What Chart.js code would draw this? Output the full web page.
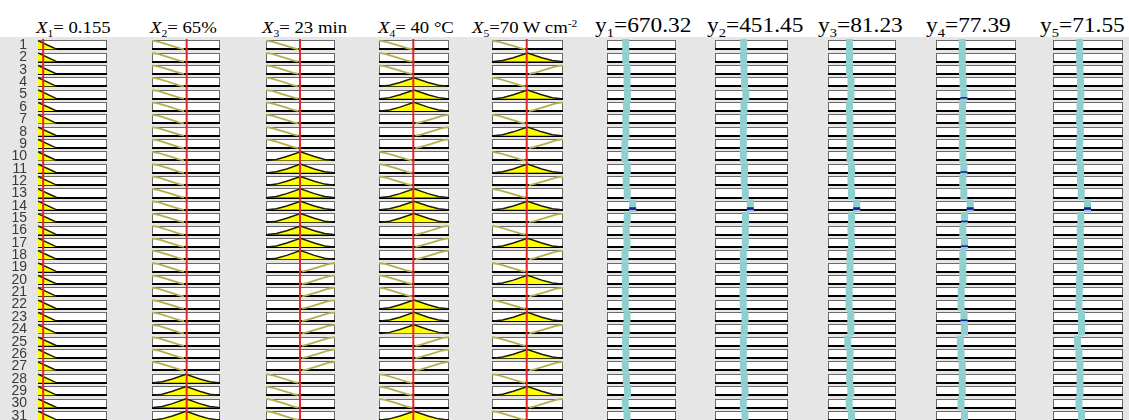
<!DOCTYPE html>
<html>
<head>
<meta charset="utf-8">
<script src="https://cdn.jsdelivr.net/npm/chart.js@4.4.1/dist/chart.umd.min.js"></script>
<style>
html, body { margin: 0; padding: 0; width: 1129px; height: 420px; overflow: hidden; background: #fff; }
#bg { position: absolute; left: 0; top: 37px; width: 1129px; height: 400px; background: #e6e6e6; }
canvas { position: absolute; }
.hd { position: absolute; white-space: nowrap; color: #000; font-family: 'Liberation Serif', serif; transform-origin: 0 0; }
.hd sub, .hd sup { font-size: 0.62em; line-height: 0; }
.hx { font-size: 16px; line-height: 16px; top: 20px; transform: scaleX(1.17); }
.hy { font-size: 20px; line-height: 20px; top: 15px; transform: scaleX(1.17); }
</style>
</head>
<body>
<div id="bg"></div>
<div class="hd hx" style="left:36px"><i>X</i><sub>1</sub>= 0.155</div>
<div class="hd hx" style="left:150px"><i>X</i><sub>2</sub>= 65%</div>
<div class="hd hx" style="left:262px"><i>X</i><sub>3</sub>= 23 min</div>
<div class="hd hx" style="left:378px"><i>X</i><sub>4</sub>= 40 °C</div>
<div class="hd hx" style="left:472px"><i>X</i><sub>5</sub>=70 W cm<sup>-2</sup></div>
<div class="hd hy" style="left:595px">y<sub>1</sub>=670.32</div>
<div class="hd hy" style="left:707px">y<sub>2</sub>=451.45</div>
<div class="hd hy" style="left:818px">y<sub>3</sub>=81.23</div>
<div class="hd hy" style="left:926px">y<sub>4</sub>=77.39</div>
<div class="hd hy" style="left:1040px">y<sub>5</sub>=71.55</div>
<script>
// rule numbers (rows)
const rules = [1,2,3,4,5,6,7,8,9,10,11,12,13,14,15,16,17,18,19,20,21,22,23,24,25,26,27,28,29,30,31];

// antecedent membership function of each rule: 1 = low, 2 = medium, 3 = high
const x1Mf = [1,1,1,1,1,1,1,1,1,1,1,1,1,1,1,1,1,1,1,1,1,1,1,1,1,1,1,1,1,1,1];
const x2Mf = [1,1,1,1,1,1,1,1,1,1,1,1,1,1,1,1,1,1,1,1,1,1,1,1,1,1,1,2,2,2,2];
const x3Mf = [1,1,1,1,1,1,1,1,1,2,2,2,2,2,2,2,2,2,3,3,3,3,3,3,3,3,3,1,1,1,1];
const x4Mf = [1,1,1,2,2,2,3,3,3,1,1,1,2,2,2,3,3,3,1,1,1,2,2,2,3,3,3,1,1,1,2];
const x5Mf = [1,2,3,1,2,3,1,2,3,1,2,3,1,2,3,1,2,3,1,2,3,1,2,3,1,2,3,1,2,3,1];

// input values (fraction of each input range, red line)
const inputPos = [0.075, 0.51, 0.493, 0.49, 0.489];

// membership function shapes (x in fraction of range, mu)
const x1LowX = [0, 0.27];
const x1LowMu = [1, 0];
const lowX = [0, 0.1, 0.25, 0.4, 0.47];
const lowMu = [1, 0.86, 0.5, 0.12, 0];
const medX = [0.02, 0.15, 0.3, 0.5, 0.7, 0.85, 0.98];
const medMu = [0, 0.12, 0.45, 1, 0.45, 0.12, 0];
const highX = [0.52, 0.6, 0.75, 0.9, 1];
const highMu = [0, 0.14, 0.5, 0.88, 1];

// rule outputs (fraction of each output range)
const y1Pos = [0.271,0.272,0.290,0.290,0.297,0.283,0.272,0.275,0.258,0.258,0.294,0.278,0.293,0.372,0.293,0.278,0.290,0.261,0.261,0.268,0.265,0.265,0.290,0.280,0.268,0.275,0.265,0.280,0.297,0.265,0.290];
const y2Pos = [0.393,0.393,0.397,0.404,0.422,0.397,0.390,0.388,0.388,0.388,0.404,0.400,0.415,0.484,0.418,0.415,0.415,0.388,0.388,0.388,0.384,0.388,0.411,0.401,0.388,0.388,0.388,0.401,0.411,0.388,0.411];
const y3Pos = [0.316,0.316,0.316,0.338,0.338,0.316,0.321,0.324,0.324,0.324,0.346,0.338,0.346,0.422,0.346,0.338,0.346,0.324,0.324,0.324,0.312,0.309,0.335,0.335,0.291,0.324,0.324,0.319,0.335,0.312,0.346];
const y4Pos = [0.328,0.328,0.331,0.338,0.348,0.331,0.328,0.335,0.328,0.335,0.348,0.335,0.348,0.428,0.356,0.335,0.356,0.335,0.335,0.335,0.316,0.313,0.350,0.356,0.304,0.313,0.328,0.328,0.328,0.313,0.356];
const y5Pos = [0.381,0.381,0.386,0.393,0.397,0.386,0.381,0.390,0.381,0.381,0.393,0.393,0.403,0.493,0.397,0.390,0.393,0.390,0.390,0.381,0.376,0.371,0.407,0.407,0.350,0.371,0.386,0.386,0.386,0.371,0.407];

// firing strength marks [rule, strength]
const fireY1 = [[14, 0.3]];
const fireY2 = [[14, 0.3]];
const fireY3 = [[14, 0.3]];
const fireY4 = [[5, 0.18], [11, 0.18], [14, 0.3], [15, 0.18], [17, 0.18], [23, 0.18]];
const fireY5 = [[14, 0.3]];

// layout of the panels
const boxLeft = [38, 152, 266, 379, 492, 607, 715, 828, 936, 1053];
const boxWidth = [69, 68, 69, 70, 71, 69, 73, 68, 80, 70];
const TOP = 39, HEIGHT = 383;
const BOX_TOP = 0.1, BOX_BOT = 0.83, MF_H = 0.7;

function shapeFor(col, type) {
    if (col === 0) return [x1LowX, x1LowMu];
    if (type === 1) return [lowX, lowMu];
    if (type === 2) return [medX, medMu];
    return [highX, highMu];
}

function muAt(xs, ms, v) {
    if (v < xs[0] || v > xs[xs.length - 1]) return 0;
    for (let i = 1; i < xs.length; i++) {
        if (v <= xs[i]) {
            const t = (v - xs[i - 1]) / (xs[i] - xs[i - 1]);
            return ms[i - 1] + t * (ms[i] - ms[i - 1]);
        }
    }
    return 0;
}

// white rule boxes behind the curves
const boxPlugin = {
    id: 'ruleBoxes',
    beforeDatasetsDraw(chart) {
        const {ctx, scales: {x, y}} = chart;
        const l = Math.round(x.getPixelForValue(0)), r = Math.round(x.getPixelForValue(1));
        ctx.save();
        rules.forEach(n => {
            const t = Math.round(y.getPixelForValue(n - 1 + BOX_TOP));
            const b = Math.round(y.getPixelForValue(n - 1 + BOX_BOT));
            ctx.fillStyle = '#ffffff';
            ctx.fillRect(l, t, r - l, b - t);
            ctx.strokeStyle = '#6a6a6a';
            ctx.lineWidth = 1;
            ctx.strokeRect(l + 0.5, t + 0.5, r - l - 1, b - t);
            ctx.strokeStyle = '#000';
            ctx.lineWidth = 2;
            ctx.beginPath();
            ctx.moveTo(l, b);
            ctx.lineTo(r, b);
            ctx.stroke();
        });
        ctx.restore();
    }
};

function inputDatasets(col, mfs) {
    const sets = [{
        data: [{x: inputPos[col], y: 0}, {x: inputPos[col], y: 31}],
        borderColor: '#e32626', borderWidth: 2, order: 0
    }];
    rules.forEach((n, i) => {
        const [xs, ms] = shapeFor(col, mfs[i]);
        const base = n - 1 + BOX_BOT;
        const fired = muAt(xs, ms, inputPos[col]) > 0;
        sets.push({
            data: xs.map((xv, j) => ({x: xv, y: base - ms[j] * MF_H})),
            borderColor: fired ? '#1c1c08' : '#b3b04c',
            borderWidth: fired ? 1.5 : 1.8,
            backgroundColor: '#ffff00',
            fill: fired ? {value: base} : false,
            order: 1
        });
    });
    return sets;
}

function outputDatasets(pos, fire) {
    const sets = [];
    rules.forEach((n, i) => {
        sets.push({
            data: [{x: pos[i], y: n - 1}, {x: pos[i], y: n}],
            borderColor: '#8fcfcf', borderWidth: 7, borderCapStyle: 'butt', order: 2
        });
    });
    fire.forEach(([n, s]) => {
        const base = n - 1 + BOX_BOT;
        sets.push({
            data: [{x: pos[n - 1], y: base}, {x: pos[n - 1], y: base - s * MF_H}],
            borderColor: '#1a1aa8', borderWidth: 7, borderCapStyle: 'butt', order: 0
        });
    });
    return sets;
}

const columns = [
    inputDatasets(0, x1Mf),
    inputDatasets(1, x2Mf),
    inputDatasets(2, x3Mf),
    inputDatasets(3, x4Mf),
    inputDatasets(4, x5Mf),
    outputDatasets(y1Pos, fireY1),
    outputDatasets(y2Pos, fireY2),
    outputDatasets(y3Pos, fireY3),
    outputDatasets(y4Pos, fireY4),
    outputDatasets(y5Pos, fireY5)
];

columns.forEach((datasets, c) => {
    const first = c === 0;
    const axisW = first ? 30 : 0;
    const cv = document.createElement('canvas');
    cv.width = boxWidth[c] + 4 + axisW;
    cv.height = HEIGHT;
    cv.style.left = (boxLeft[c] - 2 - axisW) + 'px';
    cv.style.top = TOP + 'px';
    document.body.appendChild(cv);

    datasets.forEach(d => { d.pointRadius = 0; d.tension = 0; });

    new Chart(cv, {
        type: 'line',
        data: {datasets},
        options: {
            responsive: false,
            animation: false,
            events: [],
            layout: {padding: {left: 2, right: 2, top: 0, bottom: 0}},
            plugins: {legend: {display: false}, tooltip: {enabled: false}},
            scales: {
                x: {type: 'linear', min: 0, max: 1, display: false},
                y: {
                    type: 'linear', min: 0, max: 31, reverse: true, display: first,
                    grid: {display: false}, border: {display: false},
                    afterBuildTicks: ax => { ax.ticks = rules.map(r => ({value: r - 0.5})); },
                    afterFit: ax => {
                        ax.width = axisW;
                        ax.paddingTop = 0;
                        ax.paddingBottom = 0;
                    },
                    ticks: {
                        autoSkip: false, padding: 3, color: '#3a3a3a',
                        font: {family: 'Liberation Sans', size: 14},
                        callback: v => String(rules[Math.round(v - 0.5)])
                    }
                }
            }
        },
        plugins: [boxPlugin]
    });
});
</script>
</body>
</html>
